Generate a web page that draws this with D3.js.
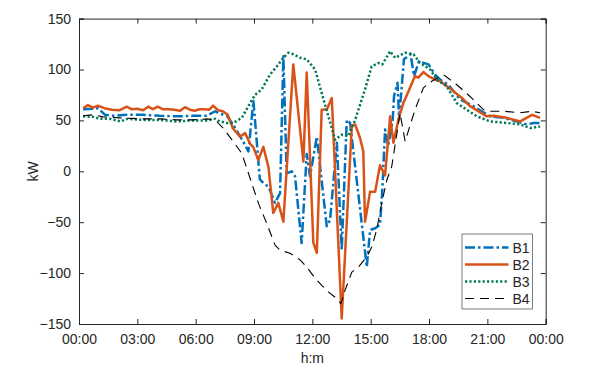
<!DOCTYPE html>
<html>
<head>
<meta charset="utf-8">
<script src="https://cdn.jsdelivr.net/npm/d3@7"></script>
<style>
  body { margin: 0; background: #fff; }
  svg { font-family: "Liberation Sans", Arial, sans-serif; }
  .axis text { font-size: 14px; fill: #262626; }
  .axis path, .axis line { stroke: #262626; }
</style>
</head>
<body>
<div class="chart"></div>
<script>
// hours of the day and kW, one pair of arrays per series
var b1Hours = [0.21, 0.72, 0.98, 1.34, 1.77, 2.45, 3.3, 4.17, 5.0, 5.88, 6.57, 7.0, 7.25, 7.6, 7.94, 8.45, 8.71, 8.97, 9.3, 9.48, 9.74, 10.08, 10.34, 10.51, 10.68, 10.94, 11.11, 11.45, 11.71, 11.88, 12.23, 12.74, 12.91, 13.26, 13.51, 13.77, 13.94, 14.8, 14.97, 15.23, 15.48, 15.6, 15.74, 15.9, 16.13, 16.2, 16.38, 16.46, 16.71, 17.05, 17.23, 17.48, 17.97, 18.31, 18.57, 19.0, 19.6, 20.28, 21.14, 21.82, 22.51, 23.03, 23.37, 23.8];
var b1Kw = [61, 61.5, 62, 55.5, 54.5, 55.5, 55.5, 54.5, 54, 54.5, 54.5, 59, 56.5, 54.5, 45.5, 29, 19.5, 69, -8, -11.5, -15, -31, -21.5, 113, -2, 0, -5, -70.5, 17, -5, 34, -54, -48, 28, -77, 50.5, 47.5, -94, -57.5, -56, -52.5, -18, 41, 25, 50, 74, 87, 51, 110, 115, 93.5, 108, 105, 95, 90, 85, 70.5, 64, 54, 52.5, 49, 46, 47.5, 47.5];

var b2Hours = [0.21, 0.46, 0.72, 0.98, 1.3, 1.7, 2.1, 2.45, 2.7, 3.0, 3.3, 3.55, 3.8, 4.05, 4.3, 4.6, 4.9, 5.2, 5.45, 5.7, 5.95, 6.2, 6.45, 6.7, 6.9, 7.15, 7.4, 7.65, 7.92, 8.28, 8.54, 8.8, 8.97, 9.22, 9.48, 9.74, 9.99, 10.25, 10.51, 11.02, 11.54, 11.71, 12.05, 12.23, 12.48, 12.75, 13.0, 13.51, 14.03, 14.2, 14.45, 14.62, 14.71, 14.97, 15.23, 15.48, 15.74, 16.0, 16.17, 16.42, 16.68, 16.94, 17.28, 17.45, 17.71, 17.97, 18.31, 18.57, 19.17, 19.69, 20.11, 20.97, 21.31, 22.0, 22.69, 23.29, 23.71];
var b2Kw = [62, 65, 62.5, 64.5, 62, 60.5, 60, 63.5, 61, 61.5, 60, 63.5, 61, 63.5, 61, 61, 60.5, 59.5, 63, 60.5, 59.5, 61, 61, 60.5, 64.5, 60, 59, 55.5, 42, 34, 37.5, 27, 23.5, 11, 24, 4.5, -41, -31, -49.5, 105, 9.5, 97, -70, -80, 60.5, 61, 72, -144.5, 45, 46, 33, 19.5, -49.5, -20, -20, 6, -4, 54, 28, 50.5, 67, 78.5, 93.5, 92, 97.5, 93.5, 90, 88.5, 80, 72, 64, 54, 54.5, 52.5, 49, 55.5, 52.5];

var b3Hours = [0.21, 0.72, 1.07, 1.6, 2.15, 2.45, 3.3, 4.17, 5.0, 5.88, 6.57, 7.0, 7.25, 7.6, 7.94, 8.37, 8.71, 9.05, 9.4, 9.82, 10.17, 10.51, 10.77, 11.02, 11.37, 11.71, 12.14, 12.31, 12.65, 13.17, 13.51, 13.85, 14.2, 14.71, 15.05, 15.4, 15.6, 16.0, 16.26, 16.77, 17.2, 17.54, 18.06, 18.4, 18.91, 19.43, 19.94, 20.46, 21.14, 22.0, 22.69, 23.2, 23.71];
var b3Kw = [54, 53.5, 51.5, 51.5, 49, 51.5, 50.5, 50.5, 49, 50, 50, 51.5, 49, 47.5, 47.5, 52.5, 64, 75, 80.5, 95, 103, 111.5, 116.5, 115, 111.5, 110, 100, 88.5, 65.5, 31, 36, 34.5, 50.5, 80.5, 103, 106.5, 105, 118, 111.5, 116.5, 115, 106.5, 100, 90, 83.5, 67, 60.5, 54, 49, 47.5, 46, 42.5, 44];

var b4Hours = [0.21, 0.72, 1.23, 2.1, 3.29, 4.17, 5.0, 5.88, 6.57, 7.0, 7.41, 7.92, 8.36, 8.54, 8.88, 9.22, 9.65, 10.08, 10.34, 10.85, 11.37, 11.71, 12.14, 12.48, 12.82, 13.26, 13.47, 13.68, 14.03, 14.37, 14.8, 15.06, 15.31, 15.57, 15.83, 16.08, 16.51, 16.77, 17.28, 17.71, 18.14, 18.74, 19.43, 20.11, 20.8, 21.14, 21.82, 22.69, 23.29, 23.71];
var b4Kw = [54.5, 55.5, 53.5, 52.5, 51.5, 51.5, 50.5, 50.5, 51.5, 50.5, 42.5, 29.5, 18, 8, -11.5, -31, -51, -72.5, -77.5, -80.5, -87, -94, -105, -112, -118.5, -125, -130, -117, -99, -94, -84, -74, -57.5, -31, -8.5, 4.5, 57, 29.5, 60.5, 82, 88.5, 95, 85, 73.5, 60.5, 59, 59, 57.5, 59, 57.5];

var seriesNames = ["B1", "B2", "B3", "B4"];
var tickHours = [0, 3, 6, 9, 12, 15, 18, 21, 24];
var tickLabels = ["00:00", "03:00", "06:00", "09:00", "12:00", "15:00", "18:00", "21:00", "00:00"];
var yTicks = [-150, -100, -50, 0, 50, 100, 150];

// svg size and margins
var svgW = 598;
var svgH = 368;
var margin = { top: 18.6, right: 52.3, bottom: 44, left: 79 };
var chartW = svgW - margin.left - margin.right;
var chartH = svgH - margin.top - margin.bottom;

var svg = d3.select(".chart")
    .append("svg")
    .attr("width", svgW)
    .attr("height", svgH);
var chart = svg.append("g")
    .attr("transform", "translate(" + margin.left + "," + margin.top + ")");

var x = d3.scaleLinear().domain([0, 24]).range([0, chartW]);
var y = d3.scaleLinear().domain([-150, 150]).range([chartH, 0]);

// axes, ticks point inwards, box all round
chart.append("g")
    .attr("class", "axis")
    .attr("transform", "translate(0," + chartH + ")")
    .call(d3.axisBottom(x).tickValues(tickHours).tickSize(-5).tickPadding(10)
        .tickFormat(function(d, i) { return tickLabels[i]; }));
chart.append("g")
    .attr("class", "axis")
    .call(d3.axisTop(x).tickValues(tickHours).tickSize(-5).tickFormat(""));
chart.append("g")
    .attr("class", "axis")
    .call(d3.axisLeft(y).tickValues(yTicks).tickSize(-5).tickPadding(8));
chart.append("g")
    .attr("class", "axis")
    .attr("transform", "translate(" + chartW + ",0)")
    .call(d3.axisRight(y).tickValues(yTicks).tickSize(-5).tickFormat(""));

// lines
var styles = [
    { color: "#0072BD", width: 2.5, dash: "10,3,2.5,3" },
    { color: "#D95319", width: 2.5, dash: null },
    { color: "#00785A", width: 2.5, dash: "2.2,2.2" },
    { color: "#000000", width: 1.1, dash: "9,6" }
];
var allHours = [b1Hours, b2Hours, b3Hours, b4Hours];
var allKw = [b1Kw, b2Kw, b3Kw, b4Kw];

var line = d3.line()
    .x(function(d) { return x(d[0]); })
    .y(function(d) { return y(d[1]); });

seriesNames.forEach(function(name, i) {
    var pts = allHours[i].map(function(h, j) { return [h, allKw[i][j]]; });
    chart.append("path")
        .datum(pts)
        .attr("fill", "none")
        .attr("stroke", styles[i].color)
        .attr("stroke-width", styles[i].width)
        .attr("stroke-dasharray", styles[i].dash)
        .attr("stroke-linejoin", "round")
        .attr("d", line);
});

// axis titles
svg.append("text")
    .attr("transform", "translate(38," + (margin.top + chartH / 2) + ") rotate(-90)")
    .attr("text-anchor", "middle")
    .style("font-size", "14px")
    .attr("fill", "#262626")
    .text("kW");
svg.append("text")
    .attr("x", margin.left + chartW / 2)
    .attr("y", 363)
    .attr("text-anchor", "middle")
    .style("font-size", "14px")
    .attr("fill", "#262626")
    .text("h:m");

// legend
var legend = svg.append("g").attr("transform", "translate(462,234)");
legend.append("rect")
    .attr("width", 70.5)
    .attr("height", 75)
    .attr("fill", "#fff")
    .attr("stroke", "#262626")
    .attr("stroke-width", 0.6);
seriesNames.forEach(function(name, i) {
    var ly = 13.5 + i * 17;
    legend.append("line")
        .attr("x1", 3).attr("x2", 46.5)
        .attr("y1", ly).attr("y2", ly)
        .attr("stroke", styles[i].color)
        .attr("stroke-width", styles[i].width)
        .attr("stroke-dasharray", styles[i].dash);
    legend.append("text")
        .attr("x", 50.5)
        .attr("y", ly + 5)
        .style("font-size", "14px")
        .attr("fill", "#262626")
        .text(name);
});
</script>
</body>
</html>
